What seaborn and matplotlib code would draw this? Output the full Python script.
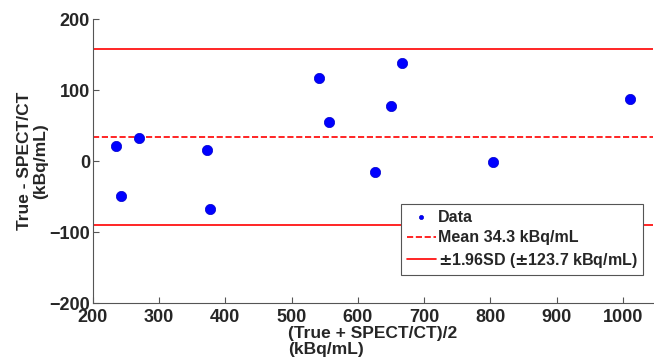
import numpy as np
import pandas as pd
import matplotlib
matplotlib.use("Agg")
import matplotlib.pyplot as plt
import seaborn as sns

# Bland-Altman data
mean_vals = [235, 243, 269, 372, 377, 542, 557, 626, 650, 666, 804, 1011]
diff_vals = [21, -49, 32, 16, -67, 117, 55, -15, 78, 138, -1, 87]
bias = 34.3
loa = 123.7

df = pd.DataFrame({"avg": mean_vals, "diff": diff_vals})

sns.set_style("ticks")
plt.rcParams["font.family"] = ["Liberation Sans", "DejaVu Sans"]
plt.rcParams["font.weight"] = "bold"
plt.rcParams["axes.labelweight"] = "bold"

fig = plt.figure(figsize=(6.54, 3.6), dpi=100)
ax = fig.add_axes([0.142, 0.158, 0.857, 0.789])

sns.scatterplot(data=df, x="avg", y="diff", ax=ax, color="#0000ff", s=55,
                edgecolor="#0000cc", linewidth=0.5, label="Data", zorder=3)
ax.axhline(bias, color="red", ls="--", lw=1.2, label="Mean 34.3 kBq/mL")
ax.axhline(bias + loa, color="red", lw=1.2, label="$\\pm$1.96SD ($\\pm$123.7 kBq/mL)")
ax.axhline(bias - loa, color="red", lw=1.2)

ax.set_xlim(200, 1046)
ax.set_ylim(-200, 200)
ax.set_xticks(range(200, 1001, 100))
ax.set_yticks(range(-200, 201, 100))
ax.tick_params(direction="in", length=4, labelsize=13, color="#555555", pad=2)
ax.tick_params(axis="x", pad=4)
for lab in ax.get_xticklabels() + ax.get_yticklabels():
    lab.set_fontweight("bold")
sns.despine(ax=ax)
for sp in ("left", "bottom"):
    ax.spines[sp].set_color("#555555")

ax.set_xlabel("(True + SPECT/CT)/2\n(kBq/mL)", fontsize=12.5, multialignment="left",
              labelpad=0, linespacing=1.1)
ax.set_ylabel("True - SPECT/CT\n(kBq/mL)", fontsize=12.5, labelpad=1, linespacing=1.1)

leg = ax.legend(loc="upper right", bbox_to_anchor=(0.982, 0.349), borderaxespad=0,
                fancybox=False, framealpha=1, edgecolor="#555555", fontsize=11.5,
                handlelength=1.8, handletextpad=0.15, borderpad=0.35, labelspacing=0.35,
                markerscale=0.4)
leg.get_frame().set_linewidth(0.8)

fig.savefig("out.png", dpi=100)
